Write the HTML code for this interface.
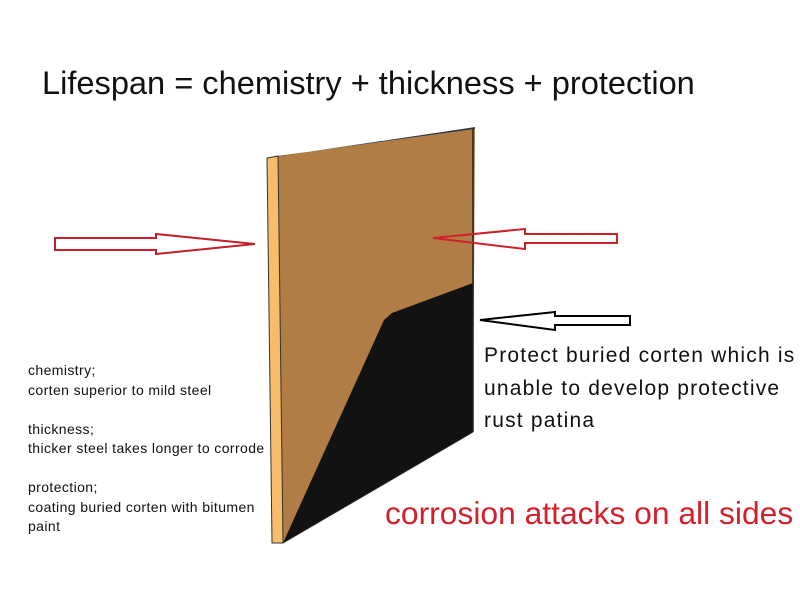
<!DOCTYPE html>
<html><head><style>
body{margin:0;width:800px;height:600px;background:#fff;position:relative;overflow:hidden;font-family:"Liberation Sans",sans-serif}
.t{position:absolute;white-space:nowrap}
</style></head><body>
<svg width="800" height="600" style="position:absolute;left:0;top:0">
<polygon points="278,156 475,129 473,432 283,543" fill="#b07d45"/>
<polygon points="473,283 473,432 283,543 384,320 392,313" fill="#121212"/>
<polygon points="267,158 278,156 283,543 272,543" fill="#f7bd6a" stroke="#333" stroke-width="1"/>
<polygon points="267,158 278,156 475,129 475,127 469,128" fill="#333"/>
<line x1="473" y1="129" x2="473" y2="432" stroke="#222" stroke-width="1.5"/>
<line x1="283" y1="543" x2="473" y2="432" stroke="#222" stroke-width="1"/>
<polygon points="55,238 156,238 156,234 255,244 156,254 156,250 55,250" fill="#fff" stroke="#c0202a" stroke-width="2"/>
<polygon points="433,238 525,229 525,234 617,234 617,243 525,243 525,249" fill="none" stroke="#d02028" stroke-width="2"/>
<polygon points="480,320 555,312 555,316 630,316 630,325 555,325 555,330" fill="#fff" stroke="#000" stroke-width="2"/>
</svg>
<div class="t" style="left:42px;top:64px;font-size:32.6px;color:#111">Lifespan = chemistry + thickness + protection</div>
<div class="t" style="left:28px;top:361px;font-size:14px;letter-spacing:0.4px;line-height:19.5px;color:#111">chemistry;<br>corten superior to mild steel<br><br>thickness;<br>thicker steel takes longer to corrode<br><br>protection;<br>coating buried corten with bitumen<br>paint</div>
<div class="t" style="left:484px;top:340px;font-size:21px;letter-spacing:1.2px;line-height:32.5px;color:#111">Protect buried corten which is<br>unable to develop protective<br>rust patina</div>
<div class="t" style="left:385px;top:495px;font-size:31.8px;color:#d4202a">corrosion attacks on all sides</div>
</body></html>
